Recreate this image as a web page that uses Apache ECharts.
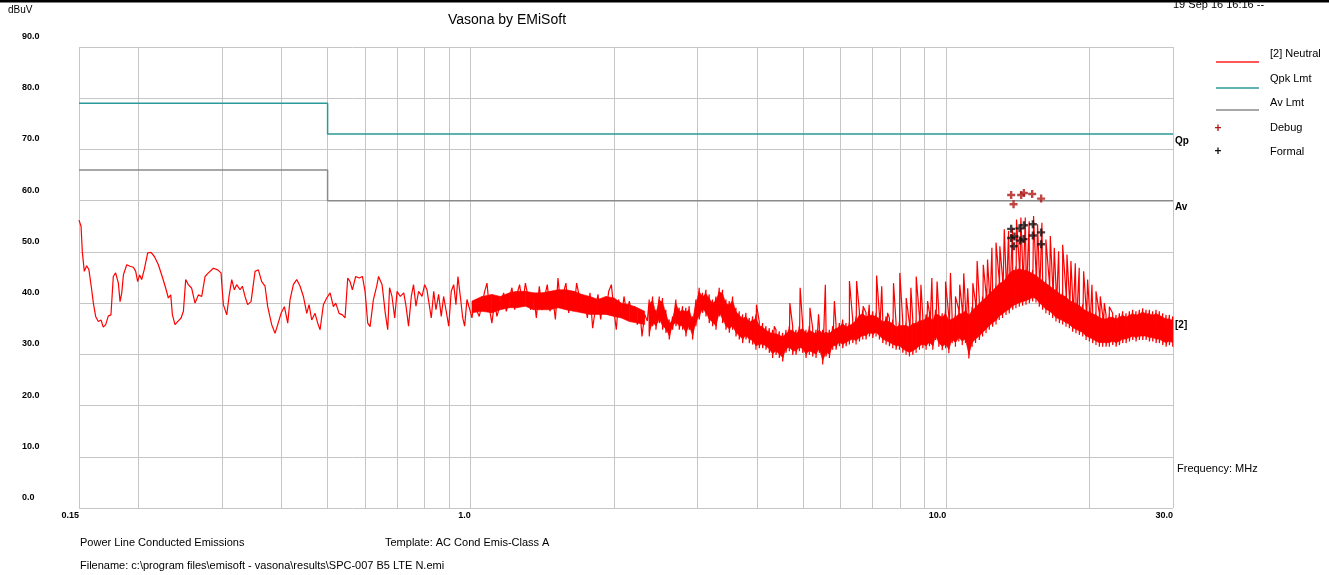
<!DOCTYPE html>
<html><head><meta charset="utf-8">
<script src="https://cdn.jsdelivr.net/npm/echarts@6/dist/echarts.min.js"></script>
<style>html,body{margin:0;padding:0;background:#fff;}#chart{width:1329px;height:575px;}</style>
</head><body><div id="chart"></div>
<script>
// ---------- DATA ----------
const gridFreqs = [0.15,0.2,0.3,0.4,0.5,0.6,0.7,0.8,0.9,1,2,3,4,5,6,7,8,9,10,20,30];
const limitFreq = [0.15, 0.5, 0.5, 30];
const qpkLimit = [79, 79, 73, 73];
const avLimit  = [66, 66, 60, 60];

// low-frequency part of the Neutral trace [MHz, dBuV]
const lowTrace = [
[0.150,56.2],[0.1515,55.0],[0.1524,50.1],[0.1539,46.2],[0.1557,47.3],[0.1574,46.5],[0.1595,42.6],[0.1608,40.0],[0.1626,37.4],[0.1647,36.4],
[0.1669,36.7],[0.1687,35.3],[0.1707,35.8],[0.1729,37.5],[0.1751,37.7],[0.1771,45.2],[0.1791,45.9],[0.1815,43.9],[0.1830,40.3],[0.1845,42.0],
[0.1860,45.5],[0.1890,47.5],[0.1920,47.2],[0.1952,47.0],[0.1974,46.2],[0.1993,44.2],[0.2012,45.5],[0.2032,44.6],[0.2058,46.6],[0.2092,49.8],
[0.2126,49.9],[0.2161,49.1],[0.2203,47.5],[0.2246,45.1],[0.2283,42.9],[0.2312,41.0],[0.2339,41.6],[0.2358,37.7],[0.2388,35.8],[0.2419,36.4],
[0.2459,37.1],[0.2487,38.4],[0.2515,44.6],[0.2547,43.6],[0.2589,42.9],[0.2631,40.0],[0.2674,41.6],[0.2718,41.3],[0.2762,45.2],[0.2807,45.9],
[0.2876,46.8],[0.2937,46.5],[0.2984,45.9],[0.3018,39.7],[0.3068,37.7],[0.3102,41.3],[0.3143,44.6],[0.3183,42.6],[0.3219,43.6],[0.3272,42.6],
[0.3309,43.3],[0.3352,41.3],[0.3395,39.7],[0.3451,40.3],[0.3519,46.2],[0.3576,46.5],[0.3634,44.2],[0.3693,43.3],[0.3741,39.3],[0.3814,35.8],
[0.3876,34.1],[0.3927,35.8],[0.3991,38.0],[0.4056,39.3],[0.4122,36.1],[0.4169,40.7],[0.4236,43.6],[0.4305,44.6],[0.4376,43.3],[0.4447,41.3],
[0.4520,38.0],[0.4571,39.7],[0.4630,36.7],[0.4705,38.0],[0.4766,36.1],[0.4821,34.8],[0.4899,39.7],[0.4979,41.0],[0.5061,42.0],[0.5143,39.3],
[0.5201,40.0],[0.5286,38.0],[0.5371,37.7],[0.5441,37.1],[0.5512,44.9],[0.5574,44.2],[0.5638,42.6],[0.5729,45.2],[0.5824,44.9],[0.5918,45.2],
[0.5995,42.3],[0.6073,36.1],[0.6142,35.4],[0.6242,40.7],[0.6343,43.3],[0.640,45.2],[0.651,43.6],[0.661,38.1],[0.669,34.8],[0.675,43.0],
[0.683,41.3],[0.692,37.1],[0.700,42.3],[0.711,41.3],[0.723,42.0],[0.731,39.4],[0.740,35.5],[0.750,41.3],[0.758,43.6],[0.767,39.4],
[0.777,42.3],[0.790,41.3],[0.800,43.6],[0.809,42.6],[0.818,39.7],[0.826,37.1],[0.836,42.3],[0.845,38.7],[0.856,41.7],[0.867,37.4],
[0.877,41.3],[0.887,38.7],[0.899,35.5],[0.910,42.3],[0.921,43.6],[0.931,39.7],[0.940,45.2],[0.951,41.3],[0.962,37.1],[0.971,35.5],
[0.982,40.7],[0.993,39.1],[1.006,37.1],[1.017,40.4],[1.031,38.4],[1.042,37.4],[1.056,39.7],[1.070,42.3],[1.082,43.9],[1.094,39.1],
[1.108,36.1],[1.123,40.4],[1.135,37.4],[1.154,39.7],[1.173,42.0],[1.188,38.4],[1.206,41.0],[1.221,43.0],[1.237,38.7],[1.251,41.7],
[1.267,43.6],[1.286,39.7],[1.303,43.9],[1.320,41.3],[1.337,38.7],[1.356,42.0],[1.374,37.1],[1.394,43.3],[1.412,38.7],[1.431,41.3],
[1.449,43.6],[1.468,38.4],[1.487,41.3],[1.507,36.8],[1.526,44.9],[1.546,39.4],[1.566,42.0],[1.586,43.9],[1.607,38.1],[1.628,41.7],
[1.649,38.7],[1.670,43.9],[1.692,41.3],[1.714,38.1],[1.737,40.4],[1.759,37.1],[1.782,42.0],[1.805,35.1],[1.828,38.7],[1.852,41.7],
[1.876,36.8],[1.901,40.7],[1.925,38.1],[1.951,42.3],[1.976,43.6],[2.002,38.4],[2.024,34.8],[2.047,40.7],[2.074,37.1],[2.101,41.3],
[2.128,38.1],[2.156,40.4],[2.184,37.4],[2.212,39.4],[2.241,35.8],[2.270,38.4],[2.292,33.5],[2.322,37.8],[2.352,36.5]
];

// solid body of the trace between 1 and 2.35 MHz [MHz, top, bottom]
const lowBody = [
[1.006,40.4,38.1],[1.056,41.3,38.4],[1.108,41.7,38.1],[1.154,41.3,38.7],[1.206,42.0,39.1],[1.251,42.3,39.1],[1.303,42.3,39.4],[1.356,42.0,38.7],
[1.412,42.0,38.7],[1.468,42.3,38.7],[1.526,42.6,39.1],[1.586,42.6,38.7],[1.649,42.3,38.4],[1.714,41.7,38.1],[1.782,41.3,37.8],[1.852,40.7,37.8],
[1.925,41.3,37.8],[2.002,41.0,37.4],[2.074,40.0,37.1],[2.156,39.7,36.4],[2.241,39.1,36.1],[2.322,38.4,35.8]
];

// noise band of the Neutral trace above 2.3 MHz [MHz, top dBuV, bottom dBuV]
const band = [
[2.374,40.7,33.5],[2.413,41.3,35.5],[2.452,38.7,34.8],[2.492,41.3,36.1],[2.532,41.0,34.8],[2.573,38.7,34.2],[2.615,36.8,32.9],[2.658,37.4,34.8],[2.701,40.7,35.5],[2.745,39.1,34.8],
[2.790,39.4,34.8],[2.835,39.1,33.5],[2.881,39.4,34.8],[2.928,37.4,32.9],[2.976,40.7,35.5],[3.024,43.0,36.8],[3.073,42.0,38.1],[3.124,42.6,37.4],[3.174,41.7,36.1],[3.226,40.7,35.5],
[3.279,41.3,34.8],[3.332,43.0,37.4],[3.386,42.6,36.1],[3.442,40.7,34.8],[3.498,40.4,34.2],[3.555,41.3,34.8],[3.613,39.1,33.5],[3.671,38.4,32.9],[3.731,37.8,32.2],[3.792,38.1,32.9],
[3.854,37.1,32.2],[3.917,37.4,31.9],[3.980,37.8,30.9],[4.045,36.4,31.2],[4.111,36.1,31.2],[4.178,35.5,30.9],[4.246,35.1,30.3],[4.315,34.8,29.3],[4.386,34.8,29.9],[4.457,34.5,29.3],
[4.530,34.2,28.6],[4.604,34.8,30.3],[4.679,35.5,30.6],[4.755,35.5,29.9],[4.832,34.8,29.9],[4.911,35.5,30.6],[4.991,35.8,30.3],[5.072,34.8,29.3],[5.155,35.5,29.9],[5.239,35.1,29.6],
[5.324,34.8,29.3],[5.411,35.5,30.3],[5.499,34.8,28.0],[5.589,35.1,29.6],[5.680,34.8,29.3],[5.772,35.5,30.9],[5.866,35.8,30.9],[5.962,36.1,31.6],[6.059,36.8,31.2],[6.158,36.1,31.6],
[6.258,36.4,31.9],[6.360,36.8,32.2],[6.464,37.4,31.9],[6.569,38.4,32.5],[6.676,38.7,32.9],[6.784,38.1,32.9],[6.895,38.4,33.5],[7.007,38.4,33.2],[7.121,38.1,33.5],[7.237,37.8,32.9],
[7.355,37.1,32.2],[7.475,37.4,31.9],[7.597,37.1,31.6],[7.721,36.8,31.2],[7.846,36.1,30.9],[7.974,36.4,30.9],[8.104,36.4,30.3],[8.236,36.4,29.9],[8.370,36.1,29.6],[8.506,36.8,29.9],
[8.645,36.8,30.3],[8.786,37.4,30.9],[8.929,37.4,31.2],[9.074,37.8,30.9],[9.222,38.1,31.6],[9.372,37.4,30.9],
[9.50,38.7,32.8],[9.65,38.4,31.5],[9.81,38.0,30.8],[9.97,38.7,31.2],[10.13,37.4,30.2],[10.29,37.7,32.2],[10.46,38.0,31.5],[10.63,38.7,32.5],[10.81,38.7,31.8],[10.98,39.3,32.2],
[11.16,38.4,29.2],[11.34,39.3,31.5],[11.53,40.0,32.2],
[11.74,40.7,32.8],[11.93,41.3,33.5],[12.13,41.9,34.1],[12.32,42.6,34.8],[12.52,43.2,35.4],[12.73,43.9,35.8],[12.93,44.6,36.7],[13.14,44.9,37.1],[13.36,45.6,37.7],[13.57,46.5,38.0],
[13.80,47.2,38.7],[14.02,47.2,39.0],[14.25,47.5,39.3],[14.48,47.2,39.5],[14.72,47.2,39.7],[14.96,46.9,40.0],[15.20,46.5,40.3],[15.45,46.2,40.1],[15.70,45.6,39.3],[15.95,45.2,38.7],
[16.21,44.6,38.0],[16.48,44.2,37.7],[16.75,43.6,37.1],[17.02,43.3,36.4],[17.30,42.6,36.1],[17.58,42.3,35.8],[17.87,42.0,35.4],[18.16,41.3,35.1],[18.45,41.0,34.4],[18.75,40.7,34.1],
[19.06,40.3,33.8],[19.37,39.7,33.5],[19.69,39.3,32.8],[20.01,39.0,32.5],[20.33,38.7,32.2],[20.66,38.4,31.8],[21.00,38.0,31.5],[21.34,37.7,31.5],[21.69,37.7,31.5],[22.04,38.0,31.5],
[22.40,38.0,31.8],[22.77,37.7,31.5],[23.14,38.0,31.8],[23.51,38.4,32.2],[23.90,38.0,32.2],[24.29,38.4,32.5],[24.68,38.7,32.8],[25.08,38.4,32.5],[25.49,38.7,32.8],[25.91,39.0,32.8],
[26.33,38.7,32.8],[26.76,38.7,32.5],[27.19,38.4,32.5],[27.64,38.7,32.2],[28.08,38.4,32.2],[28.54,38.0,31.8],[29.01,37.7,31.5],[29.48,37.7,31.8],[29.96,37.4,31.5]
];

// harmonic spikes of the Neutral trace [MHz, dBuV]
const spikes = [
[3.99,39.7],[4.35,35.5],[4.69,40.0],[4.93,43.0],[5.17,39.1],[5.39,37.8],[5.57,43.6],[5.82,40.4],[6.26,44.3],[6.48,44.3],
[6.69,39.4],[6.89,39.7],[7.14,45.4],[7.32,43.3],[7.53,38.1],[7.75,43.9],[7.82,43.6],[7.99,45.9],[8.24,41.0],[8.43,43.0],
[8.65,45.2],[8.85,43.6],[9.14,40.4],[9.33,44.9],[9.57,44.2],[9.97,44.2],[10.21,45.9],[10.46,41.3],[10.68,43.6],[10.89,45.8],
[11.10,42.9],[11.38,43.9],[11.62,48.2],[11.97,47.5],[12.22,48.5],[12.48,50.8],[12.73,51.8],[12.97,51.1],[13.25,54.4],[13.53,54.1],
[13.79,54.7],[14.06,56.3],[14.36,56.7],[14.67,56.7],[14.95,56.0],[15.27,57.0],[15.57,55.4],[15.90,55.7],[16.21,52.4],[16.56,53.1],
[16.88,50.8],[17.24,50.1],[17.58,51.4],[17.95,49.5],[18.30,48.2],[18.69,47.8],[19.05,46.9],[19.46,46.2],[19.84,44.6],[20.26,43.6],
[20.66,42.3],[21.09,41.3],[21.51,40.0],[22.04,39.3]
];

const debugPts = [[13.70,61.1],[13.86,59.3],[14.38,61.1],[14.57,61.5],[15.17,61.3],[15.84,60.4]];
const formalPts = [[13.70,54.5],[14.27,54.6],[14.57,55.2],[15.22,55.4],[13.70,52.7],[13.92,53.0],
                   [14.31,52.2],[14.55,52.5],[15.22,53.2],[15.84,53.8],[13.88,51.1],[15.84,51.5]];

// ---------- BUILD ----------
const FONT = '"Liberation Sans", Arial, sans-serif';
const RED = '#ff0000';
const trace = [];
lowTrace.forEach(p => trace.push([p[0], p[1]]));
band.forEach(b => { trace.push([b[0], b[1]]); trace.push([b[0], b[2]]); });
spikes.forEach(s => trace.push([s[0], s[1]]));
trace.sort((a, b) => a[0] - b[0]);

const qpkData = limitFreq.map((f, i) => [f, qpkLimit[i]]);
const avData = limitFreq.map((f, i) => [f, avLimit[i]]);
const GRID_COLOR = '#c6c6c6';
const PLUS = 'path://M3.5,0L6.5,0L6.5,3.5L10,3.5L10,6.5L6.5,6.5L6.5,10L3.5,10L3.5,6.5L0,6.5L0,3.5L3.5,3.5Z';
const BODY_INSET_PX = 4;   // solid core drawn slightly inside the noise envelope (style only)

// filled core between top and bottom envelope, positioned through the axes (api.coord)
function bodySeries(rows, inset) {
  return {
    type: 'custom', data: rows.map(r => [r[0], r[1], r[2]]), z: 2, silent: true, clip: true,
    encode: { x: 0, y: [1, 2] },
    renderItem: function (params, api) {
      const i = params.dataIndex;
      if (i >= rows.length - 1) return null;
      const a = rows[i], b = rows[i + 1];
      const t1 = api.coord([a[0], a[1]]), t2 = api.coord([b[0], b[1]]);
      const b2 = api.coord([b[0], b[2]]), b1 = api.coord([a[0], a[2]]);
      const d1 = Math.min(inset, (b1[1] - t1[1]) / 3), d2 = Math.min(inset, (b2[1] - t2[1]) / 3);
      const pts = [[t1[0], t1[1] + d1], [t2[0], t2[1] + d2], [b2[0], b2[1] - d2], [b1[0], b1[1] - d1]];
      return { type: 'polygon', shape: { points: pts }, style: { fill: RED, stroke: RED, lineWidth: 0.6 } };
    }
  };
}
function txt(x, y, text, opt) {
  opt = opt || {};
  return { type: 'text', x: x, y: y, z: 50, silent: true,
    style: { text: text, fill: opt.fill || '#000', font: (opt.weight || 'normal') + ' ' + (opt.size || 11) + 'px ' + FONT,
      align: opt.align || 'left', verticalAlign: 'middle' } };
}
function hline(x1, x2, y, color) {
  return { type: 'line', z: 50, silent: true, shape: { x1: x1, y1: y, x2: x2, y2: y }, style: { stroke: color, lineWidth: 1.5 } };
}

const chart = echarts.init(document.getElementById('chart'), null, { renderer: 'canvas' });
chart.setOption({
  animation: false,
  backgroundColor: '#fff',
  title: { text: 'Vasona by EMiSoft', left: 443, top: 8,
    textStyle: { fontFamily: FONT, fontSize: 14, fontWeight: 'normal', color: '#000' } },
  grid: { left: 79, right: 156, top: 47, bottom: 67, containLabel: false, outerBoundsMode: 'none' },
  xAxis: {
    type: 'log', logBase: 10, min: 0.15, max: 30,
    axisLine: { show: false }, axisTick: { show: false }, splitLine: { show: false }, minorSplitLine: { show: false },
    axisLabel: { align: 'right', margin: 3, fontSize: 9, fontWeight: 'bold', color: '#000', fontFamily: FONT,
      showMinLabel: true, showMaxLabel: true,
      formatter: v => (Math.abs(v - 0.15) < 1e-6 ? '0.15' : Number(v).toFixed(1)) }
  },
  yAxis: {
    type: 'value', min: 0, max: 90, interval: 10,
    axisLine: { show: false }, axisTick: { show: false },
    splitLine: { show: true, lineStyle: { color: GRID_COLOR, width: 1 } },
    axisLabel: { align: 'left', margin: 57, verticalAlign: 'bottom', padding: [0, 0, 6, 0],
      fontSize: 9, fontWeight: 'bold', color: '#000', fontFamily: FONT, formatter: v => v.toFixed(1) }
  },
  series: [
    { type: 'line', name: 'grid', data: [], silent: true, z: 1,
      markLine: { z: 1, silent: true, symbol: ['none', 'none'], label: { show: false }, animation: false,
        lineStyle: { color: GRID_COLOR, width: 1, type: 'solid' },
        emphasis: { disabled: true },
        data: gridFreqs.map(f => ({ xAxis: f })) } },
    bodySeries(lowBody, 0),
    bodySeries(band, BODY_INSET_PX),
    { type: 'line', name: '[2] Neutral', data: trace, showSymbol: false, symbol: 'none', z: 3,
      lineStyle: { color: RED, width: 1.2 }, silent: true },
    { type: 'line', name: 'Qpk Lmt', data: qpkData, showSymbol: false, symbol: 'none', z: 4,
      lineStyle: { color: '#2a9a98', width: 1.5 }, silent: true },
    { type: 'line', name: 'Av Lmt', data: avData, showSymbol: false, symbol: 'none', z: 4,
      lineStyle: { color: '#8a8a8a', width: 1.5 }, silent: true },
    { type: 'scatter', name: 'Debug', data: debugPts, symbol: PLUS, symbolSize: 8, z: 6,
      itemStyle: { color: '#b01818' }, silent: true },
    { type: 'scatter', name: 'Formal', data: formalPts, symbol: PLUS, symbolSize: 8, z: 6,
      itemStyle: { color: '#111' }, silent: true }
  ],
  graphic: [
    txt(1173, 5, '19 Sep 16 16:16 --', { size: 11 }),
    { type: 'rect', z: 60, silent: true, shape: { x: 0, y: 0, width: 1329, height: 2.5 }, style: { fill: '#000' } },
    txt(8, 10, 'dBuV', { size: 10 }),
    // legend
    hline(1216, 1259, 62, '#ff2020'), txt(1270, 54, '[2] Neutral', { size: 11 }),
    hline(1216, 1259, 88, '#2a9a98'), txt(1270, 79, 'Qpk Lmt', { size: 11 }),
    hline(1216, 1259, 110, '#8a8a8a'), txt(1270, 103, 'Av Lmt', { size: 11 }),
    txt(1218, 129, '+', { size: 12, weight: 'bold', fill: '#b01818', align: 'center' }), txt(1270, 128, 'Debug', { size: 11 }),
    txt(1218, 152, '+', { size: 12, weight: 'bold', fill: '#111', align: 'center' }), txt(1270, 152, 'Formal', { size: 11 }),
    // right side labels
    txt(1175, 141, 'Qp', { size: 10, weight: 'bold' }),
    txt(1175, 207, 'Av', { size: 10, weight: 'bold' }),
    txt(1175, 325, '[2]', { size: 10, weight: 'bold' }),
    txt(1177, 469, 'Frequency: MHz', { size: 11 }),
    // footer
    txt(80, 543, 'Power Line Conducted Emissions', { size: 11 }),
    txt(385, 543, 'Template: AC Cond Emis-Class A', { size: 11 }),
    txt(80, 566, 'Filename: c:\\program files\\emisoft - vasona\\results\\SPC-007 B5 LTE N.emi', { size: 11 })
  ]
});
</script>
</body></html>
